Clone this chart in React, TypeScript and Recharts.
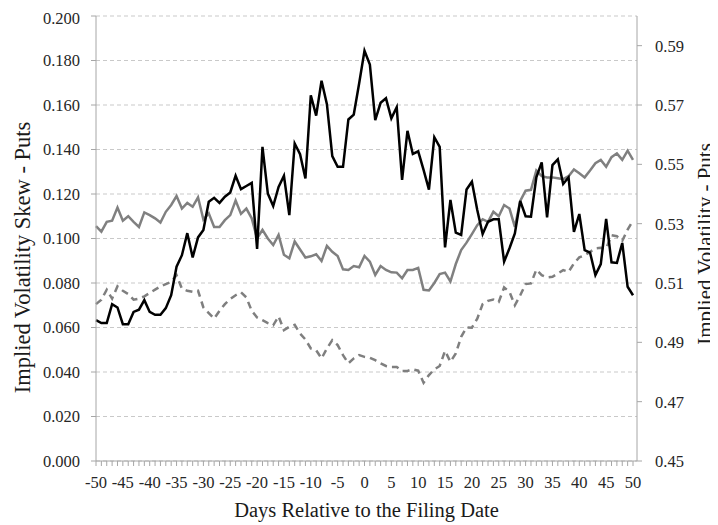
import { LineChart, Line, XAxis, YAxis, CartesianGrid } from 'recharts';

const days = [
  -50, -49, -48, -47, -46, -45, -44, -43, -42, -41,
  -40, -39, -38, -37, -36, -35, -34, -33, -32, -31,
  -30, -29, -28, -27, -26, -25, -24, -23, -22, -21,
  -20, -19, -18, -17, -16, -15, -14, -13, -12, -11,
  -10, -9, -8, -7, -6, -5, -4, -3, -2, -1,
  0, 1, 2, 3, 4, 5, 6, 7, 8, 9,
  10, 11, 12, 13, 14, 15, 16, 17, 18, 19,
  20, 21, 22, 23, 24, 25, 26, 27, 28, 29,
  30, 31, 32, 33, 34, 35, 36, 37, 38, 39,
  40, 41, 42, 43, 44, 45, 46, 47, 48, 49,
  50,
];

// implied volatility skew (left axis)
const skew = [
  0.0633, 0.062, 0.062, 0.0705, 0.069, 0.0615, 0.0615, 0.067, 0.068, 0.0723,
  0.067, 0.0657, 0.0657, 0.0687, 0.0745, 0.0873, 0.0925, 0.1024, 0.0915, 0.1005,
  0.1038, 0.1165, 0.1183, 0.116, 0.1188, 0.1207, 0.1282, 0.1222, 0.1236, 0.125,
  0.0953, 0.1412, 0.1202, 0.1146, 0.1232, 0.1282, 0.1105, 0.1427, 0.1379, 0.127,
  0.1644, 0.1552, 0.1709, 0.1604, 0.137, 0.1322, 0.1322, 0.1535, 0.1557, 0.1697,
  0.1844, 0.1782, 0.1532, 0.161, 0.163, 0.154, 0.159, 0.1263, 0.1484, 0.138,
  0.1392, 0.1308, 0.122, 0.1455, 0.1412, 0.096, 0.1173, 0.1026, 0.1016, 0.122,
  0.1255, 0.1128, 0.102, 0.1075, 0.1086, 0.1086, 0.0896, 0.0956, 0.1023, 0.1169,
  0.11, 0.1098, 0.1275, 0.1342, 0.1095, 0.133, 0.1356, 0.1245, 0.1275, 0.103,
  0.111, 0.0948, 0.0937, 0.0836, 0.0885, 0.1088, 0.0893, 0.089, 0.098, 0.0783,
  0.0745,
];

// implied volatility (right axis)
const vol = [
  0.5292, 0.5273, 0.5306, 0.531, 0.5354, 0.531, 0.5325, 0.5306, 0.5289, 0.5338,
  0.5329, 0.5318, 0.5304, 0.534, 0.5363, 0.5393, 0.5351, 0.537, 0.5357, 0.5389,
  0.5314, 0.5335, 0.5289, 0.5289, 0.5312, 0.5329, 0.5378, 0.5333, 0.5351, 0.5318,
  0.525, 0.5279, 0.525, 0.5228, 0.5262, 0.5195, 0.5183, 0.524, 0.5213, 0.5186,
  0.519, 0.5197, 0.5174, 0.5225, 0.5205, 0.5191, 0.5146, 0.5144, 0.5157, 0.5153,
  0.5191, 0.5172, 0.5127, 0.5157, 0.5144, 0.5136, 0.5135, 0.5116, 0.5144, 0.5144,
  0.5151, 0.5077, 0.5075, 0.51, 0.513, 0.5135, 0.5105, 0.5164, 0.5211, 0.5236,
  0.5265, 0.5295, 0.5315, 0.5306, 0.534, 0.5325, 0.5363, 0.5351, 0.5289, 0.5377,
  0.5411, 0.5414, 0.5479, 0.546, 0.5456, 0.5456, 0.5453, 0.545, 0.546, 0.5483,
  0.547, 0.5456, 0.5479, 0.5504, 0.5515, 0.5492, 0.5524, 0.5537, 0.5515, 0.5546,
  0.5515,
];

// dashed series (left axis)
const skewBench = [
  0.0705, 0.0725, 0.077, 0.073, 0.0785, 0.0765, 0.075, 0.0725, 0.073, 0.074,
  0.0755, 0.077, 0.0785, 0.0795, 0.0805, 0.0835, 0.0775, 0.0765, 0.076, 0.0765,
  0.069, 0.0665, 0.064, 0.0675, 0.0705, 0.0728, 0.0745, 0.0758, 0.0735, 0.0675,
  0.0645, 0.0633, 0.062, 0.061, 0.065, 0.0588, 0.0603, 0.0612, 0.0573, 0.0546,
  0.0506, 0.0498, 0.0461, 0.0506, 0.0543, 0.0521, 0.0476, 0.0439, 0.0461, 0.0476,
  0.0468, 0.0464, 0.0453, 0.0439, 0.0427, 0.0423, 0.0423, 0.0405, 0.0405, 0.0412,
  0.0406, 0.0352, 0.0386, 0.0412, 0.0427, 0.0495, 0.0446, 0.0483, 0.0558, 0.06,
  0.0599, 0.064, 0.0705, 0.072, 0.0726, 0.0715, 0.078, 0.076, 0.07, 0.0745,
  0.0795, 0.0798, 0.086, 0.0835, 0.0825, 0.0828, 0.0843, 0.0858, 0.085, 0.0888,
  0.0915, 0.0925, 0.094, 0.0955, 0.0958, 0.0955, 0.1015, 0.101, 0.099, 0.104,
  0.108,
];

const leftTicks = [0, 0.02, 0.04, 0.06, 0.08, 0.1, 0.12, 0.14, 0.16, 0.18, 0.2];
const rightTicks = [0.45, 0.47, 0.49, 0.51, 0.53, 0.55, 0.57, 0.59];

const data = days.map((d, i) => ({ day: d, skew: skew[i], vol: vol[i], bench: skewBench[i] }));

const font = '"Liberation Serif", serif';
const tickStyle = { fontFamily: font, fontSize: 16.5, fill: '#262626' };
const titleStyle = { fontFamily: font, fontSize: 20.5, fill: '#1a1a1a', textAnchor: 'middle' };
const axisLine = { stroke: '#a6a6a6' };

// rotated axis titles at fixed spots in the chart
function sideTitle(text: string, cx: number, cy: number, size: number) {
  return () => (
    <text
      x={cx}
      y={cy}
      dy="0.35em"
      transform={`rotate(-90, ${cx}, ${cy})`}
      textAnchor="middle"
      fontFamily={font}
      fontSize={size}
      fill="#1a1a1a"
    >
      {text}
    </text>
  );
}

export default function App() {
  return (
    <LineChart width={710} height={517} data={data} margin={{ top: 8, right: 0, bottom: 0, left: 0 }}>
      <CartesianGrid yAxisId="left" vertical={false} stroke="#c9c9c9" strokeDasharray="4 3" />
      <XAxis
        dataKey="day"
        type="number"
        domain={[-50, 50]}
        ticks={days}
        interval={0}
        tickFormatter={(d: number) => (d % 5 === 0 ? String(d) : '')}
        tick={tickStyle}
        tickSize={5}
        tickMargin={10}
        axisLine={axisLine}
        tickLine={axisLine}
        height={64}
        padding={{ left: 0, right: 4 }}
        label={{ value: 'Days Relative to the Filing Date', position: 'insideBottom', offset: 8, style: titleStyle }}
      />
      <YAxis
        yAxisId="left"
        domain={[0, 0.2]}
        ticks={leftTicks}
        tickFormatter={(v: number) => v.toFixed(3)}
        tick={tickStyle}
        tickSize={5}
        tickMargin={11}
        axisLine={axisLine}
        tickLine={axisLine}
        width={88}
        label={{ content: sideTitle('Implied Volatility Skew - Puts', 14.5, 249.5, 22.5) }}
      />
      <YAxis
        yAxisId="right"
        orientation="right"
        domain={[0.45, 0.6]}
        ticks={rightTicks}
        tickFormatter={(v: number) => v.toFixed(2)}
        tick={tickStyle}
        tickSize={5}
        tickMargin={13}
        axisLine={axisLine}
        tickLine={axisLine}
        width={81}
        label={{ content: sideTitle('Implied Volatility - Puts', 697, 236, 21) }}
      />
      <Line yAxisId="left" dataKey="bench" stroke="#7f7f7f" strokeWidth={2.5} strokeDasharray="7 5" dot={false} isAnimationActive={false} />
      <Line yAxisId="right" dataKey="vol" stroke="#808080" strokeWidth={2.5} dot={false} isAnimationActive={false} />
      <Line yAxisId="left" dataKey="skew" stroke="#000000" strokeWidth={2.5} dot={false} isAnimationActive={false} />
    </LineChart>
  );
}
